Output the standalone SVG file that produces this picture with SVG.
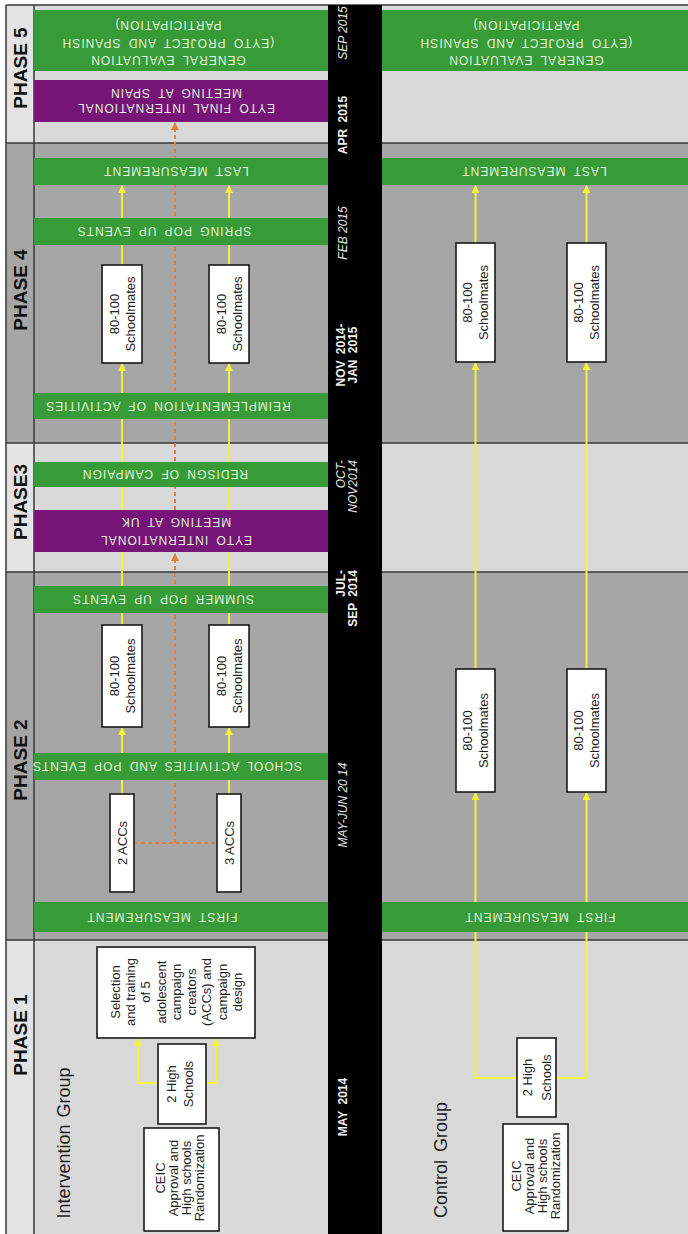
<svg xmlns="http://www.w3.org/2000/svg" width="688" height="1234" viewBox="0 0 688 1234">
  <style>
    .bgL { fill: #d9d9d9; }
    .bgD { fill: #a6a6a6; }
    .lblL { fill: #e3e3e3; }
    .sep { stroke: #3a3a3a; stroke-width: 1.5; fill: none; }
    .band { fill: #379b37; }
    .purple { fill: #761478; }
    .box { fill: #ffffff; stroke: #1a1a1a; stroke-width: 1.6; }
    .bt { font-family: "Liberation Sans", Arial, sans-serif; font-size: 12px; fill: #e4f2dc; letter-spacing: 1px; word-spacing: 3px; text-anchor: middle; }
    .txt { font-family: "Liberation Sans", Arial, sans-serif; font-size: 13px; fill: #1e1e1e; text-anchor: middle; }
    .phase { font-family: "Liberation Sans", Arial, sans-serif; font-size: 19px; font-weight: bold; fill: #111; text-anchor: middle; }
    .grp { font-family: "Liberation Sans", Arial, sans-serif; font-size: 18px; fill: #1e1e1e; text-anchor: middle; }
    .dB { font-family: "Liberation Sans", Arial, sans-serif; font-size: 12px; font-weight: bold; fill: #f2f2f2; text-anchor: middle; word-spacing: 3px; }
    .dI { font-family: "Liberation Sans", Arial, sans-serif; font-size: 12px; font-style: italic; fill: #e6e6e6; text-anchor: middle; }
    .yl { stroke: #f2f23a; stroke-width: 2; fill: none; }
    .yla { stroke: #f2f23a; stroke-width: 2; fill: none; marker-end: url(#ya); }
    .od { stroke: #e0813a; stroke-width: 2; fill: none; stroke-dasharray: 4 3; }
    .oda { stroke: #e0813a; stroke-width: 2; fill: none; stroke-dasharray: 4 3; marker-end: url(#oa); }
  </style>
  <defs>
    <marker id="ya" viewBox="0 0 8 8" refX="7" refY="4" markerWidth="8" markerHeight="8" markerUnits="userSpaceOnUse" orient="auto">
      <path d="M0,0 L8,4 L0,8 z" fill="#f2f23a"/>
    </marker>
    <marker id="oa" viewBox="0 0 8 8" refX="7" refY="4" markerWidth="8" markerHeight="8" markerUnits="userSpaceOnUse" orient="auto">
      <path d="M0,0 L8,4 L0,8 z" fill="#e0813a"/>
    </marker>
  </defs>

  <rect x="0" y="0" width="688" height="1234" fill="#ffffff"/>

  <!-- phase backgrounds -->
  <g id="backgrounds">
    <rect class="bgL" x="34" y="5" width="654" height="138"/>
    <rect class="bgD" x="34" y="143" width="654" height="300"/>
    <rect class="bgL" x="34" y="443" width="654" height="129"/>
    <rect class="bgD" x="34" y="572" width="654" height="368"/>
    <rect class="bgL" x="34" y="940" width="654" height="294"/>
    <rect class="lblL" x="6" y="5" width="28" height="138"/>
    <rect class="bgD" x="6" y="143" width="28" height="300"/>
    <rect class="lblL" x="6" y="443" width="28" height="129"/>
    <rect class="bgD" x="6" y="572" width="28" height="368"/>
    <rect class="lblL" x="6" y="940" width="28" height="294"/>
    <path class="sep" d="M6,5 H688 M6,143 H688 M6,443 H688 M6,572 H688 M6,940 H688 M6,5 V1234 M34,5 V1234"/>
  </g>

  <!-- connectors -->
  <g id="connectors">
    <!-- intervention group, phase 1 -->
    <path class="yla" d="M158,1083 H138 V1039"/>
    <path class="yla" d="M206,1083 H216 V1039"/>
    <!-- intervention group, phases 2-4 -->
    <path class="yla" d="M122,794 V728"/>
    <path class="yla" d="M229,794 V728"/>
    <path class="yla" d="M122,625 V364"/>
    <path class="yla" d="M229,625 V364"/>
    <path class="yla" d="M122,265 V186"/>
    <path class="yla" d="M229,265 V186"/>
    <!-- ACC link to international meetings -->
    <path class="od" d="M134,843 H217"/>
    <path class="oda" d="M175,843 V554"/>
    <path class="oda" d="M175,510 V123"/>
    <!-- control group -->
    <path class="yla" d="M517,1078 H475.5 V793"/>
    <path class="yla" d="M556,1078 H586.5 V793"/>
    <path class="yla" d="M475.5,669 V363"/>
    <path class="yla" d="M586.5,669 V363"/>
    <path class="yla" d="M475.5,243 V186"/>
    <path class="yla" d="M586.5,243 V186"/>
  </g>

  <!-- activity bands -->
  <g id="general-evaluation">
    <rect class="band" x="34" y="10" width="294" height="61"/>
    <rect class="band" x="382" y="10" width="306" height="61"/>
    <text class="bt" transform="translate(168,43) rotate(180)"><tspan x="0" y="-12.7">GENERAL EVALUATION</tspan><tspan x="0" y="4.3">(EYTO PROJECT AND SPANISH</tspan><tspan x="0" y="22.3">PARTICIPATION)</tspan></text>
    <text class="bt" transform="translate(526,43) rotate(180)"><tspan x="0" y="-12.7">GENERAL EVALUATION</tspan><tspan x="0" y="4.3">(EYTO PROJECT AND SPANISH</tspan><tspan x="0" y="22.3">PARTICIPATION)</tspan></text>
  </g>
  <g id="meeting-spain">
    <rect class="purple" x="34" y="80" width="294" height="42"/>
    <text class="bt" transform="translate(176,101) rotate(180)"><tspan x="0" y="-2.7">EYTO FINAL INTERNATIONAL</tspan><tspan x="0" y="12.3">MEETING AT SPAIN</tspan></text>
  </g>
  <g id="last-measurement">
    <rect class="band" x="34" y="158" width="294" height="27"/>
    <rect class="band" x="382" y="158" width="306" height="27"/>
    <text class="bt" transform="translate(176,171.5) rotate(180)" y="4.3">LAST MEASUREMENT</text>
    <text class="bt" transform="translate(534,171.5) rotate(180)" y="4.3">LAST MEASUREMENT</text>
  </g>
  <g id="spring-events">
    <rect class="band" x="34" y="218" width="294" height="27"/>
    <text class="bt" transform="translate(164,231.5) rotate(180)" y="4.3">SPRING POP UP EVENTS</text>
  </g>
  <g id="reimplementation">
    <rect class="band" x="34" y="393" width="294" height="26"/>
    <text class="bt" transform="translate(168,406) rotate(180)" y="4.3">REIMPLEMENTATION OF ACTIVITIES</text>
  </g>
  <g id="redesign">
    <rect class="band" x="34" y="462" width="294" height="25"/>
    <text class="bt" transform="translate(165,474.5) rotate(180)" y="4.3">REDISGN OF CAMPAIGN</text>
  </g>
  <g id="meeting-uk">
    <rect class="purple" x="34" y="510" width="294" height="42"/>
    <text class="bt" transform="translate(176,531) rotate(180)"><tspan x="0" y="-4.7">EYTO INTERNATIONAL</tspan><tspan x="0" y="13.3">MEETING AT UK</tspan></text>
  </g>
  <g id="summer-events">
    <rect class="band" x="34" y="586" width="294" height="27"/>
    <text class="bt" transform="translate(163,599.5) rotate(180)" y="4.3">SUMMER POP UP EVENTS</text>
  </g>
  <g id="school-activities">
    <rect class="band" x="34" y="753" width="294" height="27"/>
    <text class="bt" transform="translate(167,766.5) rotate(180)" y="4.3">SCHOOL ACTIVITIES AND POP EVENTS</text>
  </g>
  <g id="first-measurement">
    <rect class="band" x="34" y="902" width="294" height="30"/>
    <rect class="band" x="382" y="902" width="306" height="30"/>
    <text class="bt" transform="translate(162,917) rotate(180)" y="4.3">FIRST MEASUREMENT</text>
    <text class="bt" transform="translate(540,917) rotate(180)" y="4.3">FIRST MEASUREMENT</text>
  </g>

  <!-- intervention group boxes -->
  <g id="int-schoolmates-p4a">
    <rect class="box" x="102" y="265" width="40" height="98"/>
    <text class="txt" transform="translate(122,314) rotate(-90)"><tspan x="0" y="-3">80-100</tspan><tspan x="0" y="13">Schoolmates</tspan></text>
  </g>
  <g id="int-schoolmates-p4b">
    <rect class="box" x="209" y="265" width="40" height="98"/>
    <text class="txt" transform="translate(229,314) rotate(-90)"><tspan x="0" y="-3">80-100</tspan><tspan x="0" y="13">Schoolmates</tspan></text>
  </g>
  <g id="int-schoolmates-p2a">
    <rect class="box" x="102" y="625" width="40" height="102"/>
    <text class="txt" transform="translate(122,676) rotate(-90)"><tspan x="0" y="-3">80-100</tspan><tspan x="0" y="13">Schoolmates</tspan></text>
  </g>
  <g id="int-schoolmates-p2b">
    <rect class="box" x="209" y="625" width="40" height="102"/>
    <text class="txt" transform="translate(229,676) rotate(-90)"><tspan x="0" y="-3">80-100</tspan><tspan x="0" y="13">Schoolmates</tspan></text>
  </g>
  <g id="acc-2">
    <rect class="box" x="110" y="794" width="24" height="98"/>
    <text class="txt" transform="translate(122,843) rotate(-90)" y="4.7">2 ACCs</text>
  </g>
  <g id="acc-3">
    <rect class="box" x="217" y="794" width="24" height="98"/>
    <text class="txt" transform="translate(229,843) rotate(-90)" y="4.7">3 ACCs</text>
  </g>
  <g id="acc-selection">
    <rect class="box" x="97" y="947" width="158" height="91"/>
    <text class="txt" transform="translate(176,992) rotate(-90)"><tspan x="0" y="-56.3">Selection</tspan><tspan x="0" y="-41">and training</tspan><tspan x="0" y="-25.8">of 5</tspan><tspan x="0" y="-10.5">adolescent</tspan><tspan x="0" y="4.7">campaign</tspan><tspan x="0" y="20">creators</tspan><tspan x="0" y="35.2">(ACCs) and</tspan><tspan x="0" y="50.5">campaign</tspan><tspan x="0" y="65.7">design</tspan></text>
  </g>
  <g id="int-high-schools">
    <rect class="box" x="158" y="1044" width="48" height="80"/>
    <text class="txt" transform="translate(182,1084) rotate(-90)"><tspan x="0" y="-6">2 High</tspan><tspan x="0" y="11">Schools</tspan></text>
  </g>
  <g id="int-ceic">
    <rect class="box" x="144" y="1128" width="75" height="103"/>
    <text class="txt" transform="translate(181.5,1178) rotate(-90)"><tspan x="0" y="-16.8">CEIC</tspan><tspan x="0" y="-3.3">Approval and</tspan><tspan x="0" y="9.7">High schools</tspan><tspan x="0" y="22.7">Randomization</tspan></text>
  </g>
  <text class="grp" transform="translate(63,1143) rotate(-90)" y="6.5" style="word-spacing:2px">Intervention Group</text>

  <!-- control group boxes -->
  <g id="ctl-schoolmates-p4a">
    <rect class="box" x="456" y="243" width="39" height="119"/>
    <text class="txt" transform="translate(475.5,302.5) rotate(-90)"><tspan x="0" y="-3.5">80-100</tspan><tspan x="0" y="12.5">Schoolmates</tspan></text>
  </g>
  <g id="ctl-schoolmates-p4b">
    <rect class="box" x="567" y="243" width="39" height="119"/>
    <text class="txt" transform="translate(586.5,302.5) rotate(-90)"><tspan x="0" y="-3.5">80-100</tspan><tspan x="0" y="12.5">Schoolmates</tspan></text>
  </g>
  <g id="ctl-schoolmates-p2a">
    <rect class="box" x="456" y="669" width="39" height="123"/>
    <text class="txt" transform="translate(475.5,730.5) rotate(-90)"><tspan x="0" y="-3.5">80-100</tspan><tspan x="0" y="12.5">Schoolmates</tspan></text>
  </g>
  <g id="ctl-schoolmates-p2b">
    <rect class="box" x="567" y="669" width="39" height="123"/>
    <text class="txt" transform="translate(586.5,730.5) rotate(-90)"><tspan x="0" y="-3.5">80-100</tspan><tspan x="0" y="12.5">Schoolmates</tspan></text>
  </g>
  <g id="ctl-high-schools">
    <rect class="box" x="517" y="1038" width="39" height="79"/>
    <text class="txt" transform="translate(536.5,1077.5) rotate(-90)"><tspan x="0" y="-4.8">2 High</tspan><tspan x="0" y="14.2">Schools</tspan></text>
  </g>
  <g id="ctl-ceic">
    <rect class="box" x="503" y="1124" width="65" height="107"/>
    <text class="txt" transform="translate(535.5,1176) rotate(-90)"><tspan x="0" y="-14.8">CEIC</tspan><tspan x="0" y="-1.8">Approval and</tspan><tspan x="0" y="11.2">High schools</tspan><tspan x="0" y="24.2">Randomization</tspan></text>
  </g>
  <text class="grp" transform="translate(440,1160) rotate(-90)" y="6.5" style="word-spacing:3px">Control Group</text>

  <!-- timeline bar -->
  <g id="timeline">
    <rect x="328" y="5" width="54" height="1229" fill="#000000"/>
    <text class="dI" transform="translate(355,33) rotate(-90)" y="-7.7">SEP 2015</text>
    <text class="dB" transform="translate(355,125) rotate(-90)" y="-7.7">APR 2015</text>
    <text class="dI" transform="translate(355,233) rotate(-90)" y="-7.7">FEB 2015</text>
    <text class="dB" transform="translate(355,355) rotate(-90)"><tspan x="0" y="-9.7">NOV 2014-</tspan><tspan x="0" y="2.3">JAN 2015</tspan></text>
    <text class="dI" transform="translate(355,482) rotate(-90)" style="text-anchor:end"><tspan x="22" y="-9.7">OCT-</tspan><tspan x="22" y="2.3">NOV2014</tspan></text>
    <text class="dB" transform="translate(355,598) rotate(-90)" style="text-anchor:end"><tspan x="28" y="-9.7">JUL-</tspan><tspan x="28" y="2.3">SEP 2014</tspan></text>
    <text class="dI" transform="translate(355,805) rotate(-90)" y="-7.7">MAY-JUN 20 14</text>
    <text class="dB" transform="translate(355,1107) rotate(-90)" y="-7.7">MAY 2014</text>
  </g>

  <!-- phase labels -->
  <g id="phase-labels">
    <text class="phase" transform="translate(20,68) rotate(-90)" y="7">PHASE 5</text>
    <text class="phase" transform="translate(20,290) rotate(-90)" y="7">PHASE 4</text>
    <text class="phase" transform="translate(20,502) rotate(-90)" y="7">PHASE3</text>
    <text class="phase" transform="translate(20,760) rotate(-90)" y="7">PHASE 2</text>
    <text class="phase" transform="translate(20,1035) rotate(-90)" y="7">PHASE 1</text>
  </g>
</svg>
